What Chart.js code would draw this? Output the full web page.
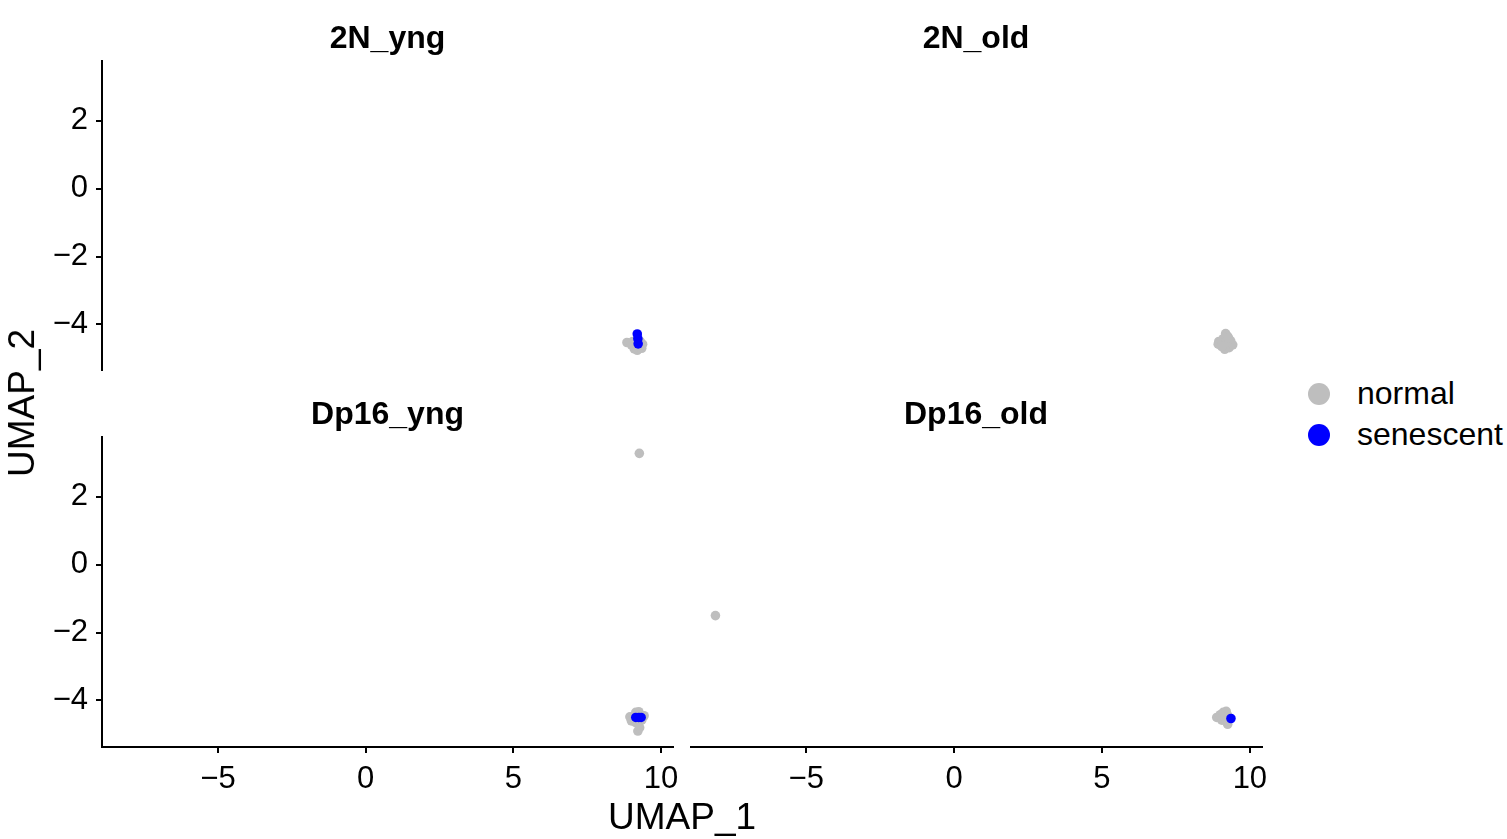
<!DOCTYPE html>
<html>
<head>
<meta charset="utf-8">
<script src="https://cdn.jsdelivr.net/npm/chart.js@4.4.1/dist/chart.umd.min.js"></script>
<style>
  body { margin: 0; background: #fff; font-family: "Liberation Sans", Arial, sans-serif; }
  #wrap { position: relative; width: 1507px; height: 839px; overflow: hidden; }
  canvas { position: absolute; }
  .axis-title { position: absolute; font-size: 37px; color: #000; white-space: nowrap; }
  .legend-item { position: absolute; left: 1308px; font-size: 32px; color: #000; white-space: nowrap; display: flex; align-items: center; }
  .legend-item span.dot { width: 22px; height: 22px; border-radius: 50%; display: inline-block; margin-right: 27px; }
</style>
</head>
<body>
<div id="wrap">
  <canvas id="p1"></canvas>
  <canvas id="p2"></canvas>
  <canvas id="p3"></canvas>
  <canvas id="p4"></canvas>
  <div class="axis-title" id="xtitle" style="left:608px; top:796px;">UMAP_1</div>
  <div class="axis-title" id="ytitle" style="left:-52px; top:382px; transform: rotate(-90deg); transform-origin: center;">UMAP_2</div>
  <div class="legend-item" style="top:375px;"><span class="dot" style="background:#BEBEBE"></span>normal</div>
  <div class="legend-item" style="top:416px;"><span class="dot" style="background:#0000FF"></span>senescent</div>
</div>
<script>
// UMAP facet plot - 4 panels, normal vs senescent cells

const panelNames = ["2N_yng", "2N_old", "Dp16_yng", "Dp16_old"];
const xTicks = [-5, 0, 5, 10];
const yTicks = [-4, -2, 0, 2];
const xRange = [-8.93, 10.41];
const yRange = [-5.37, 3.75];

// [UMAP_1, UMAP_2]
const normal2NYng = [[8.85, -4.53], [9.0, -4.6], [9.1, -4.72], [9.2, -4.76], [9.35, -4.7], [9.38, -4.58], [9.3, -4.5], [9.05, -4.5]];
const senescent2NYng = [[9.2, -4.28], [9.22, -4.42], [9.23, -4.57]];

const normal2NOld = [[9.18, -4.27], [9.25, -4.35], [9.1, -4.42], [8.95, -4.5], [8.93, -4.58], [9.05, -4.55], [9.2, -4.5], [9.35, -4.48], [9.42, -4.6], [9.3, -4.68], [9.15, -4.73], [9.05, -4.65], [9.28, -4.4]];
const senescent2NOld = [];

const normalDp16Yng = [[9.27, 3.28], [8.95, -4.48], [9.0, -4.6], [9.15, -4.35], [9.25, -4.33], [9.43, -4.45], [9.35, -4.58], [9.15, -4.65], [9.22, -4.9], [9.28, -4.8], [9.1, -4.52]];
const senescentDp16Yng = [[9.15, -4.5], [9.25, -4.5], [9.33, -4.5]];

const normalDp16Old = [[-8.07, -1.5], [8.88, -4.5], [9.0, -4.42], [9.1, -4.35], [9.2, -4.32], [9.25, -4.45], [9.2, -4.62], [9.25, -4.7], [9.05, -4.58], [9.15, -4.5]];
const senescentDp16Old = [[9.36, -4.53]];

const normalByPanel = [normal2NYng, normal2NOld, normalDp16Yng, normalDp16Old];
const senescentByPanel = [senescent2NYng, senescent2NOld, senescentDp16Yng, senescentDp16Old];

const GREY = "#BEBEBE";
const BLUE = "#0000FF";

// canvas boxes: left column has y axis, bottom row has x axis
// bottom row gets extra room on the right so the "10" label is not cut
const boxes = [
    { left: 40,  top: 10,  width: 633, height: 361, padRight: 0,  yAxis: true,  xAxis: false },
    { left: 690, top: 10,  width: 572, height: 361, padRight: 0,  yAxis: false, xAxis: false },
    { left: 40,  top: 386, width: 658, height: 411, padRight: 25, yAxis: true,  xAxis: true },
    { left: 690, top: 386, width: 597, height: 411, padRight: 25, yAxis: false, xAxis: true }
];

const minus = (v) => String(v).replace("-", "\u2212");

function toPoints(arr) {
    return arr.map(p => ({ x: p[0], y: p[1] }));
}

function buildPanel(i) {
    const box = boxes[i];
    const canvas = document.getElementById("p" + (i + 1));
    canvas.width = box.width;
    canvas.height = box.height;
    canvas.style.left = box.left + "px";
    canvas.style.top = box.top + "px";

    new Chart(canvas, {
        type: "scatter",
        data: {
            datasets: [
                {
                    label: "senescent",
                    data: toPoints(senescentByPanel[i]),
                    backgroundColor: BLUE,
                    borderWidth: 0,
                    pointRadius: 4.8,
                    order: 1
                },
                {
                    label: "normal",
                    data: toPoints(normalByPanel[i]),
                    backgroundColor: GREY,
                    borderWidth: 0,
                    pointRadius: 4.8,
                    order: 2
                }
            ]
        },
        options: {
            responsive: false,
            animation: false,
            events: [],
            layout: { padding: { left: 0, top: 0, bottom: 0, right: box.padRight }, autoPadding: false },
            plugins: {
                legend: { display: false },
                tooltip: { enabled: false },
                title: {
                    display: true,
                    fullSize: false,
                    text: panelNames[i],
                    color: "#000",
                    font: { family: "Liberation Sans", size: 32, weight: "bold" },
                    padding: { top: 10, bottom: 3 }
                }
            },
            scales: {
                x: {
                    type: "linear",
                    display: box.xAxis,
                    min: xRange[0],
                    max: xRange[1],
                    afterBuildTicks: (s) => { s.ticks = xTicks.map(v => ({ value: v })); },
                    afterFit: (s) => {
                        if (!box.xAxis) return;
                        s.height = 50; s.paddingLeft = 0; s.paddingRight = 0;
                    },
                    border: { display: true, color: "#000", width: 2 },
                    grid: { drawOnChartArea: false, drawTicks: true, tickLength: 6, color: "#000", lineWidth: 2 },
                    ticks: {
                        color: "#000",
                        padding: 8,
                        maxRotation: 0,
                        font: { family: "Liberation Sans", size: 31 },
                        callback: minus
                    }
                },
                y: {
                    type: "linear",
                    display: box.yAxis,
                    min: yRange[0],
                    max: yRange[1],
                    afterBuildTicks: (s) => { s.ticks = yTicks.map(v => ({ value: v })); },
                    afterFit: (s) => {
                        if (!box.yAxis) return;
                        s.width = 62; s.paddingTop = 0; s.paddingBottom = 0;
                    },
                    border: { display: true, color: "#000", width: 2 },
                    grid: { drawOnChartArea: false, drawTicks: true, tickLength: 6, color: "#000", lineWidth: 2 },
                    ticks: {
                        color: "#000",
                        padding: 8,
                        font: { family: "Liberation Sans", size: 31 },
                        callback: minus
                    }
                }
            }
        }
    });
}

document.addEventListener("DOMContentLoaded", () => {
    panelNames.forEach((_, i) => buildPanel(i));
});
</script>
</body>
</html>
